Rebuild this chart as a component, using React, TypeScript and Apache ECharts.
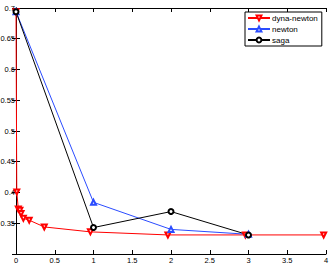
import React, { useEffect, useRef } from "react";
import * as echarts from "echarts";

const dynaX = [0, 0.01, 0.03, 0.05, 0.065, 0.095, 0.17, 0.365, 0.96, 1.96, 2.96, 3.97];
const dynaY = [0.694, 0.401, 0.373, 0.371, 0.366, 0.358, 0.355, 0.344, 0.336, 0.331, 0.331, 0.331];
const newtonX = [0, 1, 2, 3];
const newtonY = [0.694, 0.384, 0.34, 0.332];
const sagaX = [0, 1, 2, 3];
const sagaY = [0.694, 0.343, 0.369, 0.331];

const pairs = (xs: number[], ys: number[]) => xs.map((x, i) => [x, ys[i]]);

const FONT = "Liberation Sans, Arial, sans-serif";

export default function App() {
  const ref = useRef<HTMLDivElement>(null);
  useEffect(() => {
    if (!ref.current) return;
    const chart = echarts.init(ref.current, null, { renderer: "svg" });
    const axisLine = { show: true, lineStyle: { color: "#000", width: 1 } };
    const tick = { show: true, inside: true, length: 4, lineStyle: { color: "#000" } };
    chart.setOption({
      animation: false,
      backgroundColor: "#fff",
      grid: { left: 16, right: 6, top: 8, bottom: 9, containLabel: false, outerBoundsMode: "none" },
      xAxis: [
        {
          type: "value", min: 0, max: 4, interval: 0.5, position: "bottom",
          axisLine, axisTick: tick, splitLine: { show: false },
          axisLabel: { fontSize: 7.5, color: "#000", fontFamily: FONT, margin: 2,
            formatter: (v: number) => String(Math.round(v * 10) / 10) },
        },
        {
          type: "value", min: 0, max: 4, interval: 0.5, position: "top",
          axisLine, axisTick: tick, splitLine: { show: false }, axisLabel: { show: false },
        },
      ],
      yAxis: [
        {
          type: "value", min: 0.3, max: 0.7, interval: 0.05, position: "left",
          axisLine, axisTick: tick, splitLine: { show: false },
          axisLabel: { fontSize: 7.5, color: "#000", fontFamily: FONT, margin: 1,
            formatter: (v: number) => {
              const r = Math.round(v * 100) / 100;
              return r <= 0.3 ? "" : String(r);
            } },
        },
        {
          type: "value", min: 0.3, max: 0.7, interval: 0.05, position: "right",
          axisLine, axisTick: tick, splitLine: { show: false }, axisLabel: { show: false },
        },
      ],
      legend: {
        orient: "vertical", left: 245, top: 12, padding: [2, 4, 2, 2],
        itemGap: 3, itemWidth: 22, itemHeight: 6,
        borderColor: "#000", borderWidth: 1, backgroundColor: "#fff",
        textStyle: { fontSize: 8, color: "#000", fontFamily: FONT, padding: [0, 0, 0, -3] },
        data: ["dyna-newton", "newton", "saga"],
      },
      series: [
        {
          name: "dyna-newton", type: "line", data: pairs(dynaX, dynaY),
          symbol: "emptyTriangle", symbolRotate: 180, symbolSize: 5,
          lineStyle: { color: "#ff0000", width: 1 },
          itemStyle: { color: "#ff0000", borderColor: "#ff0000", borderWidth: 1 },
        },
        {
          name: "newton", type: "line", data: pairs(newtonX, newtonY),
          symbol: "emptyTriangle", symbolSize: 5,
          lineStyle: { color: "#2b4cff", width: 1 },
          itemStyle: { color: "#2b4cff", borderColor: "#2b4cff", borderWidth: 1 },
        },
        {
          name: "saga", type: "line", data: pairs(sagaX, sagaY),
          symbol: "emptyCircle", symbolSize: 5,
          lineStyle: { color: "#000", width: 1 },
          itemStyle: { color: "#000", borderColor: "#000", borderWidth: 1 },
        },
      ],
    });
    return () => chart.dispose();
  }, []);
  return <div ref={ref} style={{ width: 332, height: 263, position: "absolute", left: 0, top: 0 }} />;
}
